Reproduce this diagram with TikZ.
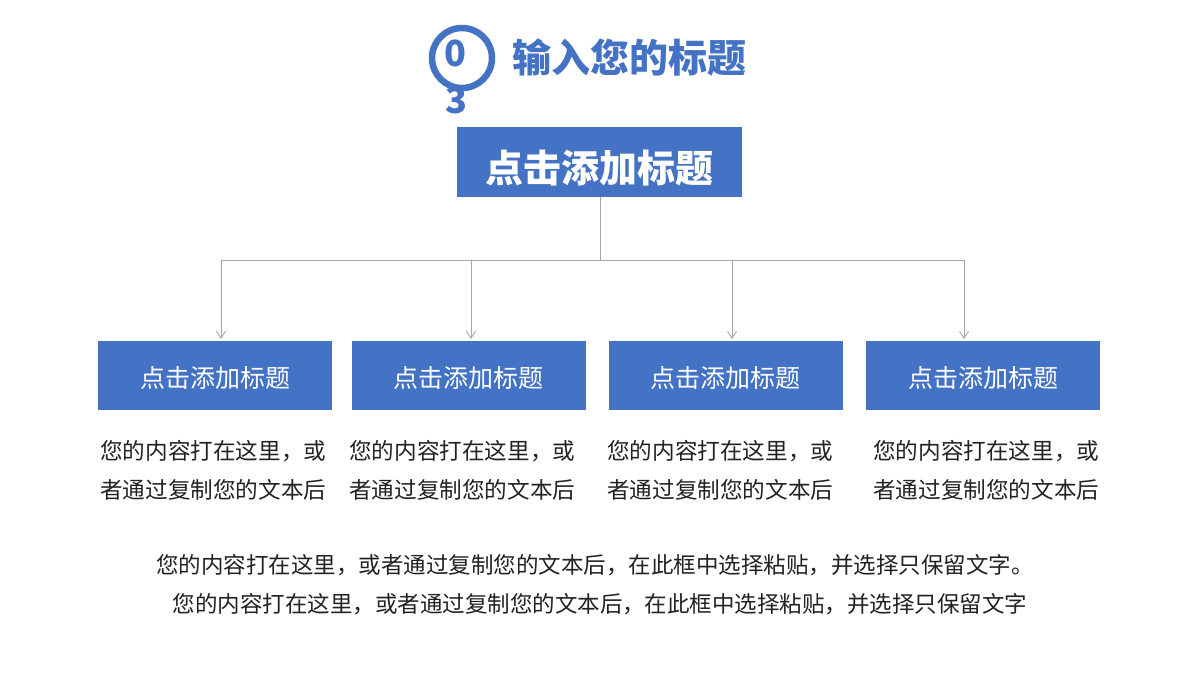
\documentclass[tikz,border=0pt]{standalone}
\usepackage{fontspec}
\setmainfont{Noto Sans CJK SC}
\newfontfamily\cjk{Noto Sans CJK SC}
\usetikzlibrary{arrows.meta}
\definecolor{mainblue}{HTML}{4472C4}
\definecolor{headblue}{HTML}{4472C4}
\definecolor{linegray}{HTML}{A6A6A6}
\definecolor{txt}{HTML}{222222}
\newcommand{\boxlabel}{\raisebox{-3pt}[\height][\depth]{点击添加标题}}
\tikzset{
  bluebox/.style={fill=mainblue, draw=none, inner sep=0pt, text=white},
  subbox/.style={bluebox, minimum width=234pt, minimum height=69pt, font=\cjk\fontsize{25}{30}\selectfont},
  desc/.style={anchor=west, align=left, inner sep=0pt, text=txt, font=\cjk\fontsize{22.6}{39}\selectfont},
  bottomline/.style={inner sep=0pt, text=txt, font=\cjk\fontsize{22.5}{28}\selectfont},
  conn/.style={draw=linegray, line width=0.9pt},
  arr/.style={conn, -{Straight Barb[length=7pt,width=9pt,line width=0.9pt]}},
}
\begin{document}
\begin{tikzpicture}[x=1pt,y=-1pt]
\useasboundingbox (0,0) rectangle (1200,675);
\fill[white] (0,0) rectangle (1200,675);
% heading
\node[inner sep=0pt, text=headblue, font=\cjk\bfseries\fontsize{36}{40}\selectfont] (three) at (456,100) {3};
\draw[headblue, line width=6.5pt] (462,58) circle (30);
\node[inner sep=0pt, text=headblue, font=\cjk\bfseries\fontsize{36}{40}\selectfont] (zero) at (455,53) {0};
\node[inner sep=0pt, text=headblue, font=\cjk\bfseries\fontsize{39}{44}\selectfont] (head) at (629,58) {输入您的标题};
% top box
\node[bluebox, minimum width=285pt, minimum height=70pt] (top) at (599.5,162) {};
\node[inner sep=0pt, text=white, font=\cjk\bfseries\fontsize{38}{44}\selectfont] (toplabel) at (599.5,168) {点击添加标题};
% sub boxes
\node[subbox] (b1) at (215,375.5) {\boxlabel};
\node[subbox] (b2) at (468.5,375.5) {\boxlabel};
\node[subbox] (b3) at (725.5,375.5) {\boxlabel};
\node[subbox] (b4) at (983,375.5) {\boxlabel};
% connectors
\coordinate (j) at (600.5,260);
\coordinate (c1) at (221,260);
\coordinate (c2) at (471,260);
\coordinate (c3) at (732,260);
\coordinate (c4) at (964,260);
\coordinate (e1) at (221,339);
\coordinate (e2) at (471,339);
\coordinate (e3) at (732,339);
\coordinate (e4) at (964,339);
\draw[conn] (top.south -| j) -- (j);
\draw[conn] (c1) -- (c4);
\draw[arr] (c1) -- (e1);
\draw[arr] (c2) -- (e2);
\draw[arr] (c3) -- (e3);
\draw[arr] (c4) -- (e4);
% descriptions
\node[desc] (d1) at (100,470.5) {您的内容打在这里，或\\者通过复制您的文本后};
\node[desc] (d2) at (349,470.5) {您的内容打在这里，或\\者通过复制您的文本后};
\node[desc] (d3) at (607,470.5) {您的内容打在这里，或\\者通过复制您的文本后};
\node[desc] (d4) at (873,470.5) {您的内容打在这里，或\\者通过复制您的文本后};
% bottom text
\node[bottomline] (l1) at (595,565) {您的内容打在这里，或者通过复制您的文本后，在此框中选择粘贴，并选择只保留文字。};
\node[bottomline] (l2) at (600,604) {您的内容打在这里，或者通过复制您的文本后，在此框中选择粘贴，并选择只保留文字};
\end{tikzpicture}
\end{document}
